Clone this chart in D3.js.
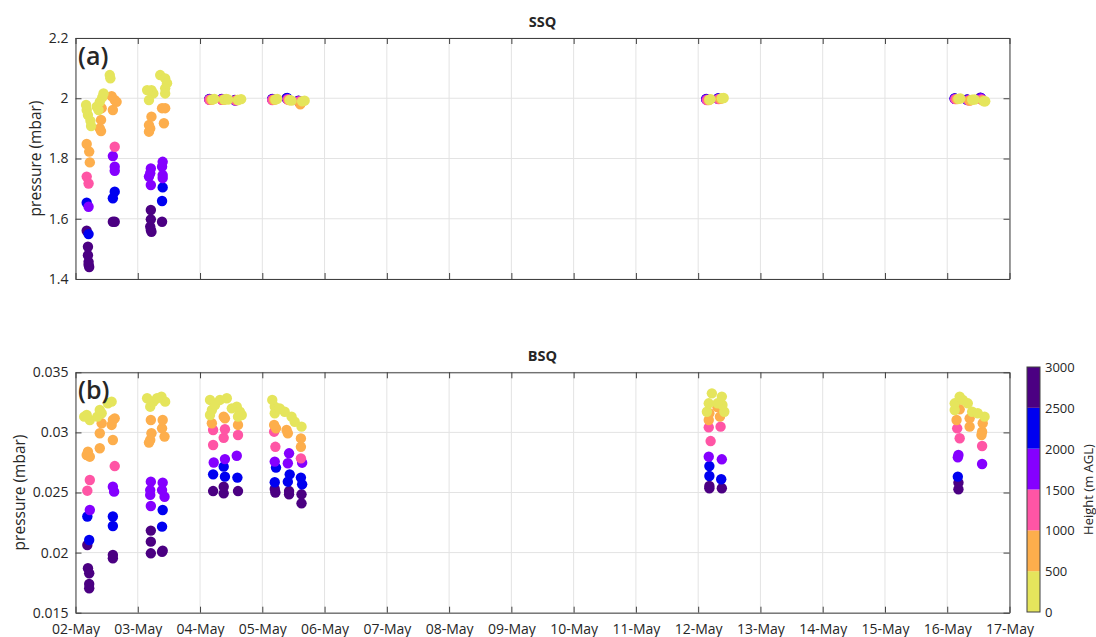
<!DOCTYPE html>
<html>
<head>
<meta charset="utf-8">
<script src="https://cdn.jsdelivr.net/npm/d3@7"></script>
<style>
  body { margin: 0; background: #fff; }
  text { font-family: "Open Sans", sans-serif; fill: #262626; }
</style>
</head>
<body>
<div class="chart"></div>
<script>
// observations: [day of May, pressure (mbar), height (m AGL)]
var ssqObs = [
  [2.17,1.978,150],[2.18,1.961,250],[2.20,1.944,330],[2.24,1.925,400],[2.25,1.908,470],
  [2.18,1.848,600],[2.22,1.823,700],[2.23,1.787,850],
  [2.18,1.740,1100],[2.21,1.717,1300],
  [2.18,1.653,2100],[2.21,1.640,1700],
  [2.18,1.560,2600],[2.21,1.549,2300],
  [2.20,1.507,2700],[2.20,1.479,2800],[2.21,1.457,2850],[2.21,1.447,2900],[2.22,1.440,2950],
  [2.34,1.972,200],[2.37,1.961,300],[2.39,1.988,150],[2.45,2.016,100],[2.43,2.003,120],
  [2.42,1.967,600],[2.41,1.928,700],[2.39,1.900,800],[2.41,1.891,900],
  [2.55,2.077,450],[2.56,2.066,400],[2.58,2.007,550],[2.63,1.994,650],[2.66,1.988,700],[2.60,1.961,800],
  [2.63,1.839,1200],[2.60,1.808,1600],[2.63,1.773,1750],[2.63,1.759,1900],
  [2.63,1.690,2200],[2.60,1.668,2400],[2.60,1.590,2700],[2.63,1.590,2900],
  [3.15,2.027,150],[3.22,2.027,250],[3.25,2.016,300],[3.18,1.994,400],
  [3.22,1.939,600],[3.18,1.911,700],[3.20,1.900,800],[3.18,1.889,900],
  [3.21,1.767,1600],[3.20,1.751,1700],[3.18,1.740,1800],[3.21,1.712,1900],
  [3.21,1.629,2600],[3.21,1.598,2700],[3.20,1.574,2800],[3.21,1.563,2900],[3.22,1.557,2950],
  [3.36,2.077,450],[3.44,2.066,400],[3.47,2.050,350],[3.44,2.033,300],[3.44,2.016,250],
  [3.39,1.967,600],[3.44,1.967,700],[3.42,1.917,900],
  [3.40,1.789,1600],[3.39,1.773,1700],[3.40,1.745,1800],[3.40,1.735,1900],
  [3.40,1.704,2200],[3.39,1.659,2400],[3.39,1.590,2800],
  [4.15,1.998,2800],[4.15,1.997,2200],[4.15,1.996,1700],[4.15,1.995,1200],[4.18,1.995,700],[4.20,1.996,300],[4.23,1.998,150],
  [4.35,1.998,2800],[4.35,1.997,2300],[4.35,1.996,1700],[4.35,1.995,1200],[4.38,1.995,800],[4.39,1.996,350],[4.42,1.998,200],[4.45,1.996,100],
  [4.56,1.994,2800],[4.56,1.993,2200],[4.57,1.993,1700],[4.57,1.993,1200],[4.60,1.994,800],[4.61,1.994,300],[4.66,1.997,150],
  [5.16,1.998,2800],[5.16,1.997,2100],[5.16,1.996,1700],[5.16,1.994,1200],[5.19,1.995,700],[5.21,1.996,400],[5.24,1.998,200],
  [5.39,2.000,2800],[5.40,2.001,2300],[5.40,1.998,1700],[5.41,1.996,1300],[5.43,1.994,800],[5.44,1.994,400],[5.47,1.992,250],
  [5.58,1.992,2800],[5.58,1.991,2200],[5.58,1.990,1700],[5.59,1.989,1200],[5.61,1.980,800],[5.62,1.984,600],[5.64,1.990,300],[5.68,1.992,150],
  [12.13,1.998,2800],[12.13,1.997,2200],[12.13,1.996,1700],[12.14,1.994,1200],[12.17,1.994,700],[12.18,1.995,300],[12.20,1.997,150],
  [12.32,1.999,2800],[12.32,1.999,2200],[12.32,1.998,1700],[12.33,1.997,1200],[12.36,1.998,700],[12.38,2.000,300],[12.41,2.001,150],
  [16.12,1.999,2800],[16.12,1.999,2200],[16.12,1.998,1700],[16.13,1.997,1200],[16.16,1.997,700],[16.18,1.998,300],[16.21,1.999,150],
  [16.32,1.996,2800],[16.32,1.995,2200],[16.33,1.994,1700],[16.34,1.993,1200],[16.36,1.992,800],[16.37,1.993,650],[16.40,1.995,300],[16.44,1.996,150],
  [16.53,2.002,2800],[16.54,2.001,2300],[16.54,2.000,1700],[16.55,1.996,1200],[16.57,1.993,800],[16.59,1.990,400],[16.61,1.990,150]
];

var bsqObs = [
  [2.14,0.03131,100],[2.18,0.03145,150],[2.23,0.03103,250],[2.35,0.03131,200],[2.39,0.03186,150],[2.42,0.03159,300],[2.52,0.03242,350],[2.58,0.03256,450],
  [2.20,0.02840,600],[2.23,0.02798,700],[2.18,0.02812,800],[2.39,0.02868,600],[2.39,0.02993,550],[2.42,0.03076,520],
  [2.60,0.03103,600],[2.63,0.03117,650],[2.58,0.03062,750],[2.60,0.02937,900],
  [2.23,0.02604,1100],[2.19,0.02515,1300],[2.63,0.02720,1200],
  [2.23,0.02354,1700],[2.60,0.02548,1600],[2.62,0.02507,1800],
  [2.19,0.02300,2100],[2.22,0.02105,2400],[2.60,0.02300,2200],[2.60,0.02221,2400],
  [2.19,0.02063,2600],[2.20,0.01870,2700],[2.22,0.01828,2800],[2.22,0.01739,2900],[2.22,0.01703,2950],[2.60,0.01980,2700],[2.60,0.01952,2900],
  [3.15,0.03284,150],[3.25,0.03256,250],[3.38,0.03298,200],[3.44,0.03256,300],[3.20,0.03214,400],[3.31,0.03284,150],
  [3.21,0.03103,600],[3.22,0.02993,700],[3.20,0.02937,800],[3.18,0.02915,900],[3.40,0.03103,600],[3.39,0.03034,700],[3.43,0.02965,850],
  [3.21,0.02590,1600],[3.20,0.02520,1700],[3.20,0.02480,1800],[3.21,0.02388,1900],[3.40,0.02582,1600],[3.39,0.02520,1700],[3.43,0.02465,1850],
  [3.40,0.02354,2100],[3.39,0.02216,2300],
  [3.21,0.02183,2600],[3.21,0.02091,2700],[3.21,0.01994,2900],[3.40,0.02016,2800],[3.39,0.02006,2900],
  [4.16,0.03270,300],[4.24,0.03228,250],[4.32,0.03270,200],[4.43,0.03284,150],[4.19,0.03186,350],[4.16,0.03145,400],
  [4.51,0.03200,200],[4.59,0.03214,250],[4.64,0.03172,300],[4.61,0.03131,400],[4.67,0.03145,350],
  [4.19,0.03076,600],[4.38,0.03131,550],[4.40,0.03117,650],[4.61,0.03062,700],
  [4.21,0.03020,1100],[4.21,0.02895,1300],[4.40,0.03026,1100],[4.38,0.02955,1300],[4.61,0.02978,1200],
  [4.22,0.02750,1700],[4.40,0.02778,1700],[4.59,0.02806,1750],
  [4.21,0.02651,2200],[4.38,0.02715,2100],[4.40,0.02632,2300],[4.60,0.02624,2200],
  [4.21,0.02512,2700],[4.38,0.02548,2600],[4.38,0.02493,2800],[4.61,0.02512,2700],
  [5.16,0.03270,150],[5.20,0.03214,250],[5.20,0.03159,350],[5.36,0.03172,200],[5.47,0.03131,250],[5.52,0.03089,300],[5.63,0.03048,400],[5.28,0.03200,180],
  [5.19,0.03062,600],[5.22,0.03034,700],[5.41,0.02993,650],[5.39,0.03020,550],[5.62,0.02950,700],[5.62,0.02880,850],
  [5.19,0.03006,1100],[5.21,0.02880,1300],[5.62,0.02784,1200],
  [5.20,0.02757,1700],[5.43,0.02826,1600],[5.41,0.02743,1800],[5.64,0.02748,1700],
  [5.22,0.02707,2100],[5.20,0.02585,2300],[5.44,0.02651,2100],[5.41,0.02590,2300],[5.62,0.02624,2200],[5.64,0.02568,2400],
  [5.20,0.02529,2600],[5.21,0.02500,2800],[5.43,0.02512,2700],[5.43,0.02485,2900],[5.63,0.02485,2700],[5.63,0.02410,2900],
  [12.22,0.03325,150],[12.17,0.03242,250],[12.14,0.03172,350],[12.38,0.03298,200],[12.39,0.03228,300],[12.42,0.03172,400],[12.31,0.03242,250],
  [12.18,0.03159,600],[12.17,0.03103,700],[12.35,0.03131,650],[12.31,0.03210,600],
  [12.17,0.03042,1100],[12.36,0.03048,1100],[12.20,0.02928,1300],
  [12.17,0.02798,1700],[12.38,0.02776,1800],
  [12.18,0.02720,2100],[12.18,0.02637,2300],[12.37,0.02610,2200],
  [12.18,0.02554,2600],[12.18,0.02535,2800],[12.38,0.02535,2700],
  [16.20,0.03298,150],[16.12,0.03242,250],[16.12,0.03186,350],[16.33,0.03242,200],[16.40,0.03172,300],[16.49,0.03159,250],[16.60,0.03131,400],[16.25,0.03270,200],
  [16.20,0.03192,600],[16.15,0.03103,700],[16.36,0.03117,600],[16.36,0.03048,750],[16.57,0.03076,650],[16.55,0.02978,850],[16.56,0.03006,800],
  [16.16,0.03034,1100],[16.20,0.02951,1300],[16.56,0.02887,1200],
  [16.18,0.02812,1600],[16.17,0.02793,1800],[16.56,0.02737,1700],
  [16.17,0.02632,2200],
  [16.18,0.02582,2600],[16.18,0.02527,2800]
];

var heightBins = [0, 500, 1000, 1500, 2000, 2500, 3000];
var binColors = ["#e5e55c", "#fdae4c", "#ff55a5", "#8500ff", "#0000f0", "#4b0082"];
var ssqTicks = [1.4, 1.6, 1.8, 2, 2.2];
var bsqTicks = [0.015, 0.02, 0.025, 0.03, 0.035];

var W = 1096, H = 637;
var left = 75.5, right = 1009.5;

var svg = d3.select(".chart").append("svg")
    .attr("width", W)
    .attr("height", H);

function dayToDate(d) {
    return new Date(Date.UTC(2024, 4, 1) + (d - 1) * 864e5);
}

var x = d3.scaleUtc()
    .domain([dayToDate(2), dayToDate(17)])
    .range([left, right]);

var color = d3.scaleThreshold()
    .domain(heightBins.slice(1, -1))
    .range(binColors);

var panels = [
    { data: ssqObs, top: 38, bottom: 279, domain: [1.4, 2.2], ticks: ssqTicks, title: "SSQ", tag: "(a)", labelX: 35, xLabels: false },
    { data: bsqObs, top: 372.3, bottom: 612.7, domain: [0.015, 0.035], ticks: bsqTicks, title: "BSQ", tag: "(b)", labelX: 19, xLabels: true }
];

var fmt = function(d) { return String(+d.toFixed(3)); };
var days = d3.utcDay.range(dayToDate(2), dayToDate(17.01));

panels.forEach(function(p) {
    var y = d3.scaleLinear().domain(p.domain).range([p.bottom, p.top]);
    var g = svg.append("g");

    // grid
    g.selectAll(".gx").data(days).enter().append("line")
        .attr("x1", function(d) { return x(d); }).attr("x2", function(d) { return x(d); })
        .attr("y1", p.top).attr("y2", p.bottom)
        .attr("stroke", "#e3e3e3").attr("stroke-width", 1);
    g.selectAll(".gy").data(p.ticks).enter().append("line")
        .attr("x1", left).attr("x2", right)
        .attr("y1", function(d) { return y(d); }).attr("y2", function(d) { return y(d); })
        .attr("stroke", "#e3e3e3").attr("stroke-width", 1);

    // points, high altitudes first so the low ones sit on top
    var pts = p.data.slice().sort(function(a, b) { return b[2] - a[2]; });
    g.selectAll("circle").data(pts).enter().append("circle")
        .attr("cx", function(d) { return x(dayToDate(d[0])); })
        .attr("cy", function(d) { return y(d[1]); })
        .attr("r", 5.2)
        .attr("fill", function(d) { return color(d[2]); });

    // axes (ticks pointing in)
    var ax = [
        g.append("g").attr("transform", "translate(0," + p.bottom + ")")
            .call(d3.axisBottom(x).tickValues(days).tickSize(-6).tickSizeOuter(0).tickPadding(11)
                .tickFormat(p.xLabels ? d3.utcFormat("%d-%b") : "")),
        g.append("g").attr("transform", "translate(0," + p.top + ")")
            .call(d3.axisTop(x).tickValues(days).tickSize(-6).tickSizeOuter(0).tickFormat("")),
        g.append("g").attr("transform", "translate(" + left + ",0)")
            .call(d3.axisLeft(y).tickValues(p.ticks).tickSize(-6).tickSizeOuter(0).tickPadding(7).tickFormat(fmt)),
        g.append("g").attr("transform", "translate(" + right + ",0)")
            .call(d3.axisRight(y).tickValues(p.ticks).tickSize(-6).tickSizeOuter(0).tickFormat(""))
    ];
    ax.forEach(function(a) {
        a.selectAll("path, line").attr("stroke", "#404040");
        a.selectAll("text").attr("font-size", 14).attr("font-family", "Open Sans").attr("fill", "#262626");
    });

    g.append("text")
        .attr("x", (left + right) / 2).attr("y", p.top - 11)
        .attr("text-anchor", "middle")
        .attr("font-size", 14.5).attr("font-weight", "bold")
        .attr("fill", "#000")
        .text(p.title);

    g.append("text")
        .attr("transform", "translate(" + p.labelX + "," + ((p.top + p.bottom) / 2) + ") rotate(-90)")
        .attr("text-anchor", "middle")
        .attr("dominant-baseline", "central")
        .attr("font-size", 15.5)
        .text("pressure (mbar)");

    g.append("text")
        .attr("x", 78).attr("y", p.top + 27)
        .attr("font-size", 25).attr("font-weight", 600)
        .attr("fill", "#000")
        .text(p.tag);
});

// colorbar
var cb = { x: 1027, w: 13, top: 367, bottom: 612 };
var cy = d3.scaleLinear().domain([0, 3000]).range([cb.bottom, cb.top]);
svg.selectAll(".bin").data(binColors).enter().append("rect")
    .attr("x", cb.x)
    .attr("y", function(d, i) { return cy(heightBins[i + 1]); })
    .attr("width", cb.w)
    .attr("height", function(d, i) { return cy(heightBins[i]) - cy(heightBins[i + 1]); })
    .attr("fill", function(d) { return d; });
svg.append("rect")
    .attr("x", cb.x).attr("y", cb.top)
    .attr("width", cb.w).attr("height", cb.bottom - cb.top)
    .attr("fill", "none").attr("stroke", "#404040");
svg.selectAll(".cbl").data(heightBins).enter().append("text")
    .attr("x", cb.x + cb.w + 5)
    .attr("y", function(d) { return cy(d); })
    .attr("dominant-baseline", "central")
    .attr("font-size", 13)
    .text(function(d) { return d; });
svg.append("text")
    .attr("transform", "translate(1088," + ((cb.top + cb.bottom) / 2) + ") rotate(-90)")
    .attr("text-anchor", "middle")
    .attr("dominant-baseline", "central")
    .attr("font-size", 13)
    .text("Height (m AGL)");
</script>
</body>
</html>
